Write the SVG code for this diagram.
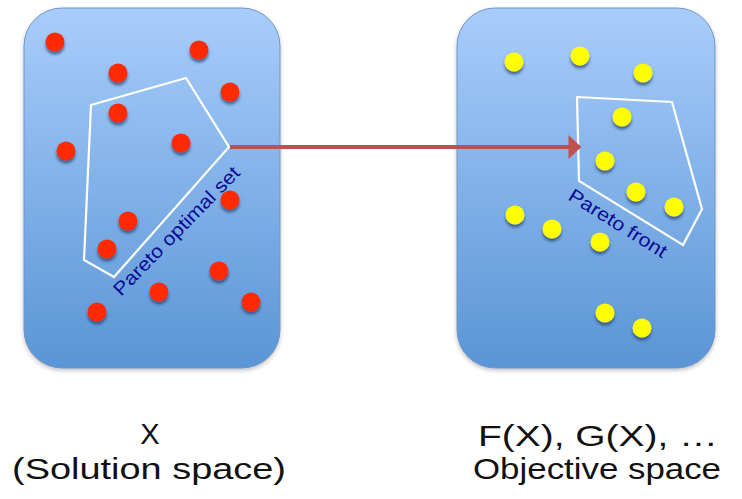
<svg xmlns="http://www.w3.org/2000/svg" width="742" height="499" viewBox="0 0 742 499">
<defs>
<linearGradient id="bg" x1="0" y1="0" x2="0" y2="1">
<stop offset="0" stop-color="#a8cdfb"/>
<stop offset="1" stop-color="#5a95d5"/>
</linearGradient>
<filter id="sh" x="-50%" y="-50%" width="200%" height="200%">
<feGaussianBlur in="SourceAlpha" stdDeviation="1.5"/>
<feOffset dx="0" dy="2.5" result="b"/>
<feFlood flood-color="#1f3c66" flood-opacity="0.7"/>
<feComposite in2="b" operator="in"/>
<feMerge><feMergeNode/><feMergeNode in="SourceGraphic"/></feMerge>
</filter>
<filter id="bsh" x="-10%" y="-10%" width="120%" height="120%">
<feGaussianBlur in="SourceAlpha" stdDeviation="2"/>
<feOffset dx="0" dy="2" result="b"/>
<feFlood flood-color="#000" flood-opacity="0.25"/>
<feComposite in2="b" operator="in"/>
<feMerge><feMergeNode/><feMergeNode in="SourceGraphic"/></feMerge>
</filter>
<marker id="ah" viewBox="0 0 10 10" refX="9" refY="5" markerWidth="3.2" markerHeight="6" orient="auto" markerUnits="strokeWidth" preserveAspectRatio="none">
<path d="M0,0 L10,5 L0,10 z" fill="#c0504d"/>
</marker>
<style>
.box{fill:url(#bg);stroke:#6f95c4;stroke-width:1;filter:url(#bsh)}
.r{fill:#ff2a00;filter:url(#sh)}
.y{fill:#ffff00;filter:url(#sh)}
.poly{fill:none;stroke:#ffffff;stroke-width:2.2;stroke-linejoin:miter}
.lbl{font-family:"Liberation Sans",Arial,sans-serif;font-size:19px;fill:#0a0a96}
.cap{font-family:"Liberation Sans",Arial,sans-serif;font-size:29px;fill:#111;text-anchor:middle}
</style>
</defs>
<g id="solution-space">
<rect class="box" x="24" y="8" width="256" height="360" rx="38" ry="38"/>
<g>
<circle class="r" cx="55" cy="42" r="9.5"/>
<circle class="r" cx="199" cy="50" r="9.5"/>
<circle class="r" cx="118" cy="73" r="9.5"/>
<circle class="r" cx="230" cy="92" r="9.5"/>
<circle class="r" cx="118" cy="113" r="9.5"/>
<circle class="r" cx="66" cy="151" r="9.5"/>
<circle class="r" cx="181" cy="143" r="9.5"/>
<circle class="r" cx="230" cy="200" r="9.5"/>
<circle class="r" cx="128" cy="221" r="9.5"/>
<circle class="r" cx="107" cy="249" r="9.5"/>
<circle class="r" cx="219" cy="271" r="9.5"/>
<circle class="r" cx="159" cy="292" r="9.5"/>
<circle class="r" cx="251" cy="302" r="9.5"/>
<circle class="r" cx="97" cy="312" r="9.5"/>
</g>
<polygon class="poly" points="91,105 186,78 229,147 114,277 84,260"/>
<text class="lbl" transform="translate(121,297) rotate(-45.7)" textLength="172" lengthAdjust="spacingAndGlyphs">Pareto optimal set</text>
</g>
<g id="objective-space">
<rect class="box" x="457" y="8" width="258" height="360" rx="38" ry="38"/>
<g>
<circle class="y" cx="514" cy="62" r="9.5"/>
<circle class="y" cx="580" cy="56" r="9.5"/>
<circle class="y" cx="643" cy="73" r="9.5"/>
<circle class="y" cx="622" cy="117" r="9.5"/>
<circle class="y" cx="605" cy="161" r="9.5"/>
<circle class="y" cx="636" cy="192" r="9.5"/>
<circle class="y" cx="674" cy="207" r="9.5"/>
<circle class="y" cx="515" cy="215" r="9.5"/>
<circle class="y" cx="552" cy="229" r="9.5"/>
<circle class="y" cx="600" cy="242" r="9.5"/>
<circle class="y" cx="605" cy="313" r="9.5"/>
<circle class="y" cx="642" cy="328" r="9.5"/>
</g>
<polygon class="poly" points="577,97 672,102 702,209 683,245 579,181"/>
<text class="lbl" transform="translate(567,199) rotate(32)" textLength="112" lengthAdjust="spacingAndGlyphs">Pareto front</text>
</g>
<g id="connectors">
<line x1="230" y1="147" x2="580" y2="147" stroke="#c0504d" stroke-width="4" marker-end="url(#ah)"/>
</g>
<g id="captions">
<text class="cap" x="150" y="444">X</text>
<text class="cap" x="149" y="479" textLength="274" lengthAdjust="spacingAndGlyphs">(Solution space)</text>
<text class="cap" x="598" y="446" textLength="240" lengthAdjust="spacingAndGlyphs">F(X), G(X), …</text>
<text class="cap" x="597" y="479" textLength="248" lengthAdjust="spacingAndGlyphs">Objective space</text>
</g>
</svg>
